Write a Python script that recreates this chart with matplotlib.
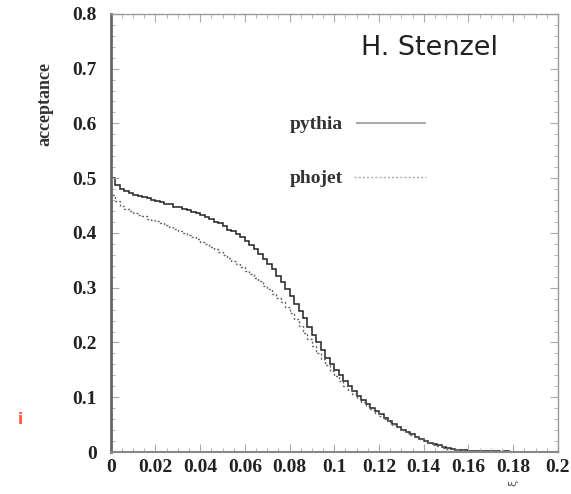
import numpy as np
import matplotlib
matplotlib.use('Agg')
import matplotlib.pyplot as plt
from matplotlib.ticker import MultipleLocator

# histogram bin edges (100 bins over 0..0.2)
edges = np.linspace(0.0, 0.2, 101)

pythia = [0.500, 0.488, 0.480, 0.476, 0.472, 0.470, 0.467, 0.466, 0.463, 0.461,
          0.458, 0.457, 0.453, 0.452, 0.448, 0.447, 0.443, 0.441, 0.438, 0.436,
          0.432, 0.429, 0.426, 0.420, 0.418, 0.412, 0.406, 0.404, 0.398, 0.392,
          0.386, 0.378, 0.370, 0.362, 0.353, 0.344, 0.334, 0.322, 0.310, 0.298,
          0.285, 0.270, 0.258, 0.244, 0.228, 0.214, 0.200, 0.186, 0.172, 0.160,
          0.150, 0.140, 0.130, 0.120, 0.111, 0.103, 0.095, 0.088, 0.081, 0.075,
          0.069, 0.062, 0.057, 0.051, 0.046, 0.041, 0.036, 0.032, 0.028, 0.024,
          0.021, 0.017, 0.014, 0.012, 0.009, 0.007, 0.006, 0.004, 0.003, 0.003,
          0.002, 0.002, 0.001, 0.001, 0.001, 0.001, 0.001, 0.000, 0.001, 0.000,
          0.000, 0.000, 0.000, 0.000, 0.000, 0.000, 0.000, 0.000, 0.000, 0.000]

phojet = [0.470, 0.458, 0.450, 0.444, 0.440, 0.436, 0.432, 0.430, 0.426, 0.424,
          0.421, 0.418, 0.414, 0.410, 0.407, 0.403, 0.399, 0.396, 0.392, 0.388,
          0.384, 0.379, 0.375, 0.370, 0.365, 0.360, 0.354, 0.349, 0.343, 0.337,
          0.331, 0.325, 0.318, 0.312, 0.304, 0.297, 0.289, 0.281, 0.273, 0.264,
          0.254, 0.243, 0.230, 0.218, 0.206, 0.193, 0.181, 0.169, 0.158, 0.148,
          0.139, 0.130, 0.121, 0.113, 0.105, 0.098, 0.091, 0.084, 0.078, 0.072,
          0.066, 0.060, 0.055, 0.050, 0.045, 0.040, 0.035, 0.031, 0.027, 0.023,
          0.020, 0.016, 0.013, 0.011, 0.008, 0.006, 0.005, 0.004, 0.003, 0.002,
          0.002, 0.001, 0.001, 0.001, 0.001, 0.000, 0.001, 0.000, 0.000, 0.000,
          0.000, 0.000, 0.000, 0.000, 0.000, 0.000, 0.000, 0.000, 0.000, 0.000]

xticks = [0, 0.02, 0.04, 0.06, 0.08, 0.1, 0.12, 0.14, 0.16, 0.18, 0.2]
xticklabels = ['0', '0.02', '0.04', '0.06', '0.08', '0.1', '0.12', '0.14', '0.16', '0.18', '0.2']
yticks = [0, 0.1, 0.2, 0.3, 0.4, 0.5, 0.6, 0.7, 0.8]
yticklabels = ['0', '0.1', '0.2', '0.3', '0.4', '0.5', '0.6', '0.7', '0.8']

fig = plt.figure(figsize=(5.71, 4.94), dpi=100)
ax = fig.add_axes([0.194, 0.085, 0.783, 0.887])

ax.stairs(pythia, edges, color='#222222', lw=1.1)
ax.stairs(phojet, edges, color='#666666', lw=1.0, linestyle=(0, (1.5, 1.5)))

ax.set_xlim(0, 0.2)
ax.set_ylim(0, 0.8)

serif = {'family': 'Liberation Serif', 'weight': 'bold'}
ax.set_xticks(xticks)
ax.set_xticklabels(xticklabels, fontdict=serif, fontsize=14, color='#222222')
ax.set_yticks(yticks)
ax.set_yticklabels(yticklabels, fontdict=serif, fontsize=14, color='#222222')
ax.xaxis.set_minor_locator(MultipleLocator(0.005))
ax.yaxis.set_minor_locator(MultipleLocator(0.02))
ax.tick_params(which='both', direction='in', top=True, right=True, color='#aaaaaa')
ax.tick_params(which='major', length=6)
ax.tick_params(axis='y', which='major', pad=10)
ax.tick_params(axis='x', which='major', pad=5)
ax.tick_params(which='minor', length=3)

for s in ax.spines.values():
    s.set_color('#999999')
    s.set_linewidth(1.0)
ax.spines['left'].set_color('#666666')
ax.spines['left'].set_linewidth(2.0)
ax.spines['bottom'].set_color('#888888')
ax.spines['bottom'].set_linewidth(1.5)

fig.text(0.079, 0.79, 'acceptance', rotation=90, ha='center', va='center',
         fontdict=serif, fontsize=13, color='#333333')

ax.text(0.1427, 0.738, 'H. Stenzel', fontsize=19.5, family='DejaVu Sans',
        ha='center', va='center', color='#222222')

# legend drawn by hand
ax.text(0.080, 0.598, 'pythia', fontdict=serif, fontsize=14, color='#333333',
        ha='left', va='center')
ax.plot([0.110, 0.1405], [0.601, 0.601], color='#aaaaaa', lw=1.5)
ax.text(0.080, 0.499, 'phojet', fontdict=serif, fontsize=14, color='#333333',
        ha='left', va='center')
ax.plot([0.109, 0.141], [0.502, 0.502], color='#aaaaaa', lw=1.0, linestyle=(0, (1.5, 1.5)))

fig.text(0.899, 0.022, 'ξ', rotation=90, fontsize=8, color='#555555',
         ha='center', va='center')
fig.text(0.035, 0.150, 'i', fontsize=11, color='#ff5533', fontweight='bold',
         ha='center', va='center')

fig.savefig('out.png', dpi=100)
